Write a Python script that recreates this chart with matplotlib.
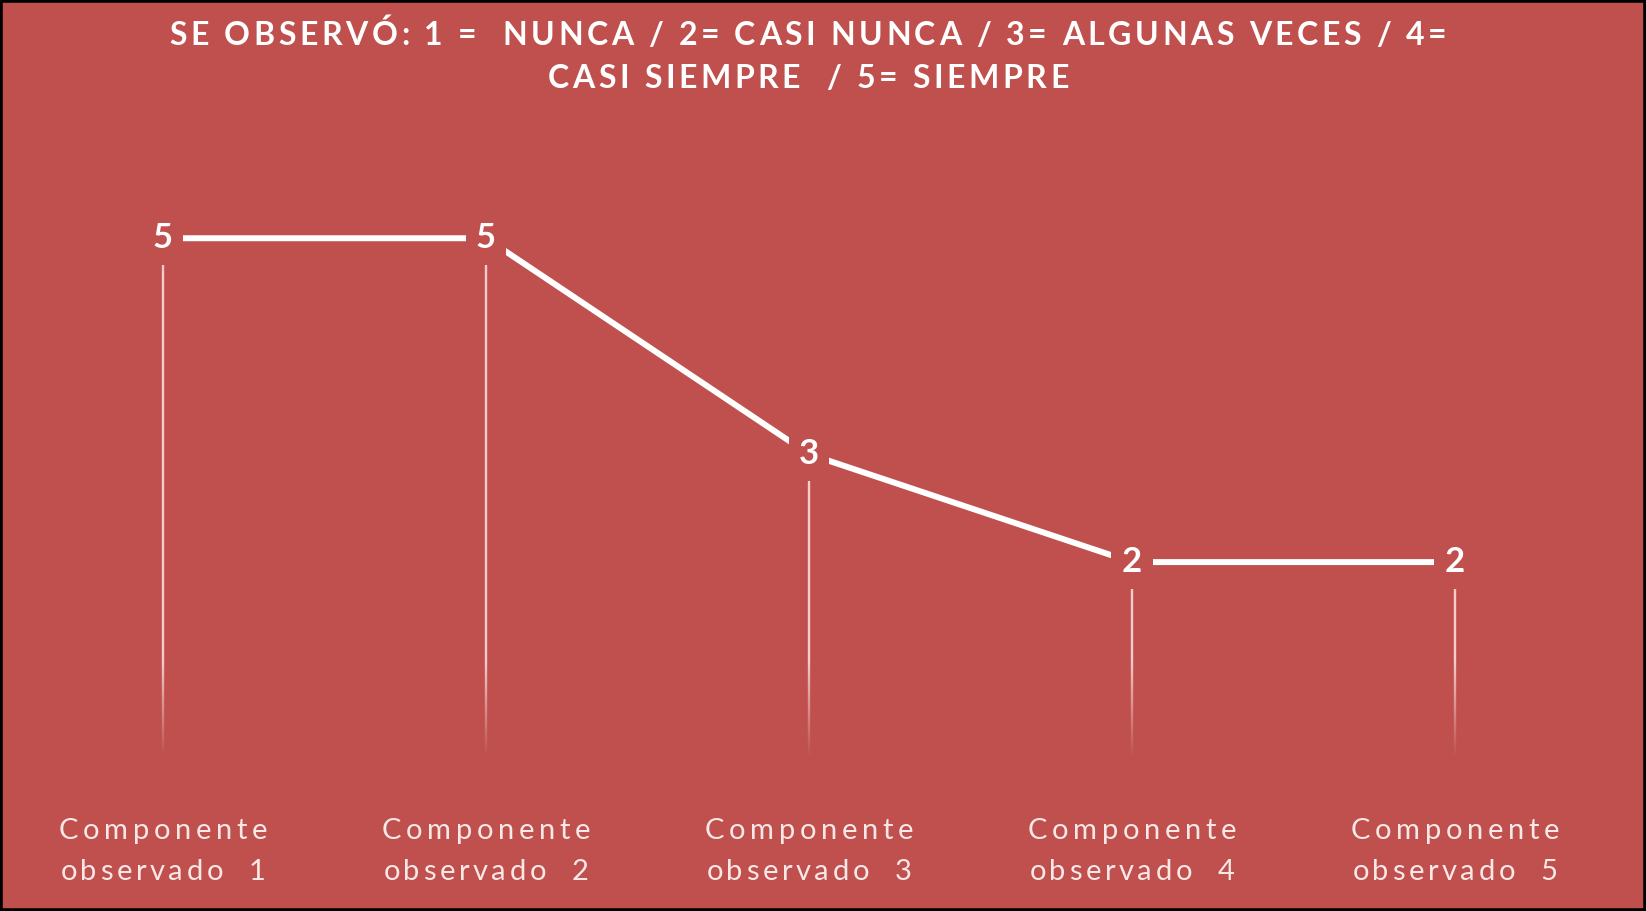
import numpy as np
import matplotlib
matplotlib.use("Agg")
import matplotlib.pyplot as plt
from matplotlib.patches import Rectangle
from matplotlib.collections import LineCollection

# data
categorias = ["Componente\nobservado  1", "Componente\nobservado  2", "Componente\nobservado  3",
              "Componente\nobservado  4", "Componente\nobservado  5"]
valores = [5, 5, 3, 2, 2]
titulo = ["SE OBSERVÓ: 1 =  NUNCA / 2= CASI NUNCA / 3= ALGUNAS VECES / 4=",
          "CASI SIEMPRE  / 5= SIEMPRE"]

BG = "#C0504D"
W, H = 1646, 911


def tracked_text(fig, xc, y_base, s, track, **kw):
    '''text with extra letter spacing (px), centered on xc (figure fraction)'''
    r = fig.canvas.get_renderer()

    def width(txt):
        t = fig.text(0, 0, txt, **kw)
        w = t.get_window_extent(r).width
        t.remove()
        return w

    ref = width("xx")
    widths = [width("x" + ch + "x") - ref for ch in s]
    total = sum(widths) + track * (len(s) - 1)
    x = xc * W - total / 2
    for ch, w in zip(s, widths):
        if ch != " ":
            fig.text(x / W, y_base, ch, ha="left", va="baseline", **kw)
        x += w + track


fig = plt.figure(figsize=(W / 100, H / 100), dpi=100)
fig.patch.set_facecolor(BG)

ax = fig.add_axes([1.5 / W, 0.146, 1615 / W, 0.711])
ax.set_facecolor(BG)
ax.set_xlim(-0.5, len(valores) - 0.5)
ax.set_ylim(0, 6)
ax.set_axis_off()

x = np.arange(len(valores))

# drop lines, fading towards the bottom
for xi, v in zip(x, valores):
    ys = np.linspace(0, v, 120)
    segs = [[(xi, a), (xi, b)] for a, b in zip(ys[:-1], ys[1:])]
    mid = (ys[:-1] + ys[1:]) / 2
    alpha = np.clip((mid - 0.2) / 0.9, 0, 1) * 0.8
    cols = [(1, 0.93, 0.93, a) for a in alpha]
    ax.add_collection(LineCollection(segs, colors=cols, linewidths=1.7, zorder=2))

ax.plot(x, valores, color="white", lw=4.3, solid_capstyle="butt", zorder=3)

for xi, v in zip(x, valores):
    ax.annotate(str(v), (xi, v), ha="center", va="center", fontsize=25,
                fontweight="bold", color="white", family=["Lato", "DejaVu Sans"],
                bbox=dict(boxstyle="square,pad=0.3", fc=BG, ec="none"), zorder=4)

# title
for line, yb in zip(titulo, [45, 88]):
    tracked_text(fig, 808 / W, 1 - yb / H, line, 3.6, fontsize=23,
                 fontweight="bold", color="white", family=["Lato", "DejaVu Sans"])

# category labels
fig.canvas.draw()
for xi, lab in zip(x, categorias):
    xf = fig.transFigure.inverted().transform(ax.transData.transform((xi, 0)))[0]
    l1, l2 = lab.split("\n")
    tracked_text(fig, xf, 1 - 839 / H, l1, 4.6, fontsize=21, color="#F8E8E7",
                 family=["Lato", "DejaVu Sans"])
    tracked_text(fig, xf, 1 - 880 / H, l2, 3.6, fontsize=21, color="#F8E8E7",
                 family=["Lato", "DejaVu Sans"])

fig.patches.append(Rectangle((0, 0), 1, 1, transform=fig.transFigure, fill=False,
                             edgecolor="black", lw=4, zorder=10))

fig.savefig("out.png", dpi=100, facecolor=BG)
